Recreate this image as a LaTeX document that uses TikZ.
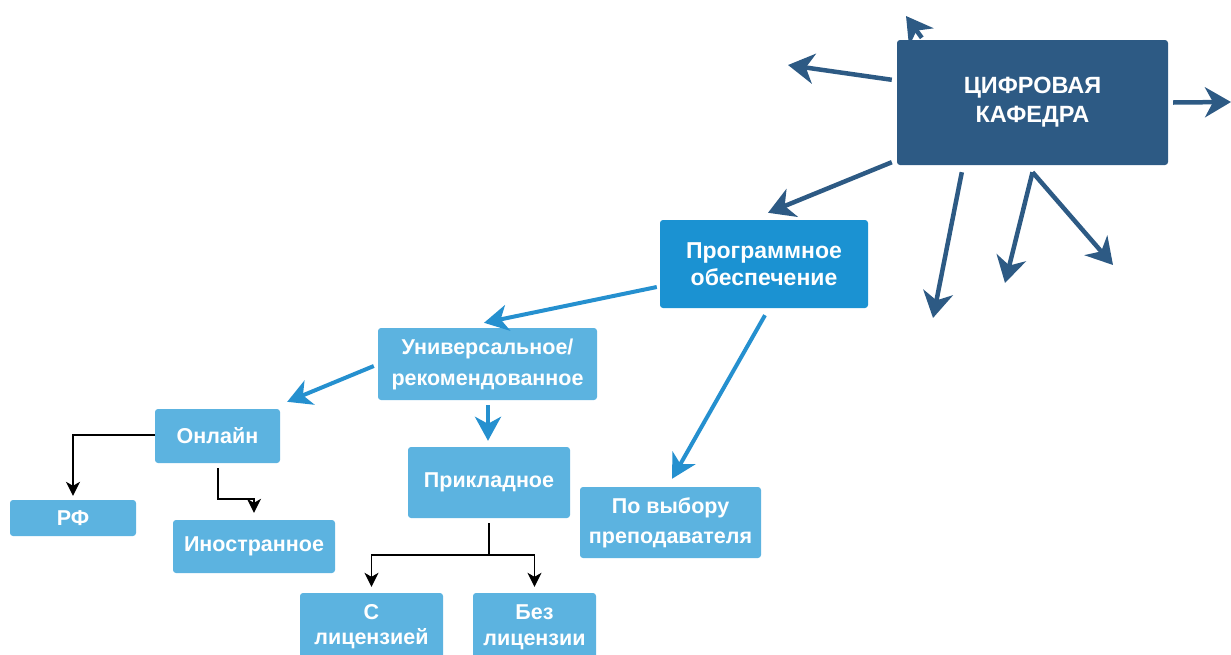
\documentclass[tikz,border=0pt]{standalone}
\usepackage{fontspec}
\setmainfont{Liberation Sans}
\usetikzlibrary{arrows.meta}
\definecolor{navy}{HTML}{2D5A84}
\definecolor{progblue}{HTML}{1B92D2}
\definecolor{lightblue}{HTML}{5CB3E0}
\definecolor{arrblue}{HTML}{2590CF}
\tikzset{
  boxbase/.style={rounded corners=3pt, inner sep=0pt, align=center, text=white},
  mainbox/.style={boxbase, fill=navy, font=\bfseries\fontsize{23.5}{29}\selectfont},
  progbox/.style={boxbase, fill=progblue, font=\bfseries\fontsize{23}{27}\selectfont},
  lightbox/.style={boxbase, fill=lightblue, font=\bfseries\fontsize{21.5}{31}\selectfont},
  darr/.style={draw=navy, line width=4.5pt, -{Stealth[length=26pt,width=30pt,inset=8pt]}},
  barr/.style={draw=arrblue, line width=4pt, -{Stealth[length=24pt,width=26pt,inset=7pt]}},
  karr/.style={draw=black, line width=1.6pt, -{Stealth[length=14pt,width=14pt,inset=4pt]}}
}
\begin{document}
\begin{tikzpicture}[x=1pt,y=-1pt]
\useasboundingbox (0,0) rectangle (1231,654);
% nodes
\node[mainbox, minimum width=271pt, minimum height=125pt] (main) at (1032.5,102.5) {ЦИФРОВАЯ\\КАФЕДРА};
\node[progbox, minimum width=208pt, minimum height=88pt] (prog) at (764,264) {Программное\\обеспечение};
\node[lightbox, minimum width=219pt, minimum height=72pt] (univ) at (487.5,364) {Универсальное/\\рекомендованное};
\node[lightbox, minimum width=125pt, minimum height=54pt] (online) at (217.5,436) {Онлайн};
\node[lightbox, minimum width=126pt, minimum height=36pt] (rf) at (73,518) {РФ};
\node[lightbox, minimum width=162pt, minimum height=53pt] (inostr) at (254,546.5) {Иностранное};
\node[lightbox, minimum width=162pt, minimum height=71pt] (prikl) at (489,482.5) {Прикладное};
\node[lightbox, minimum width=181pt, minimum height=71pt, font=\bfseries\fontsize{21.5}{30}\selectfont] (povyb) at (670.5,522.5) {По выбору\\преподавателя};
\node[lightbox, minimum width=143pt, minimum height=68pt, font=\bfseries\fontsize{21.5}{25}\selectfont] (slic) at (371.5,627) {С\\лицензией};
\node[lightbox, minimum width=123pt, minimum height=68pt, font=\bfseries\fontsize{21.5}{26}\selectfont] (bez) at (534.5,627) {Без\\лицензии};
% free ends
\coordinate (t1) at (906,16);
\coordinate (t2) at (788,65);
\coordinate (t3) at (1231,102);
\coordinate (t5) at (933,318);
\coordinate (t6) at (1005,283);
\coordinate (t7) at (1113,265);
% dark arrows
\draw[darr] ([shift={(25,-2)}]main.north west) -- (t1);
\draw[darr] ([shift={(-5,40)}]main.north west) -- (t2);
\draw[darr] ([shift={(5,0)}]main.east) -- (t3);
\draw[darr] ([shift={(-5,-3)}]main.south west) -- ([shift={(4,-7)}]prog.north);
\draw[darr] ([shift={(65,7)}]main.south west) -- (t5);
\draw[darr] ([shift={(0,7)}]main.south) -- (t6);
\draw[darr] ([shift={(0,7)}]main.south) -- (t7);
% blue arrows
\draw[barr] ([shift={(-3,23)}]prog.west) -- ([shift={(-3.5,-5)}]univ.north);
\draw[barr] ([shift={(1,7)}]prog.south) -- ([shift={(1.5,-8)}]povyb.north);
\draw[barr] ([shift={(-4,2)}]univ.west) -- ([shift={(7,-7)}]online.north east);
\draw[barr] ([shift={(0.5,5)}]univ.south) -- ([shift={(-1,-6)}]prikl.north);
% black connectors
\draw[karr] ([shift={(0,-1)}]online.west) -| ([shift={(0,-4)}]rf.north);
\draw[karr] ([shift={(0.5,5)}]online.south) |- ([shift={(0,-21)}]inostr.north) -- ([shift={(0,-7)}]inostr.north);
\draw[karr] ([shift={(0,5)}]prikl.south) -- ++(0,32) -| ([shift={(0,-6)}]slic.north);
\draw[karr] ([shift={(0,5)}]prikl.south) -- ++(0,32) -| ([shift={(0,-6)}]bez.north);
\end{tikzpicture}
\end{document}
